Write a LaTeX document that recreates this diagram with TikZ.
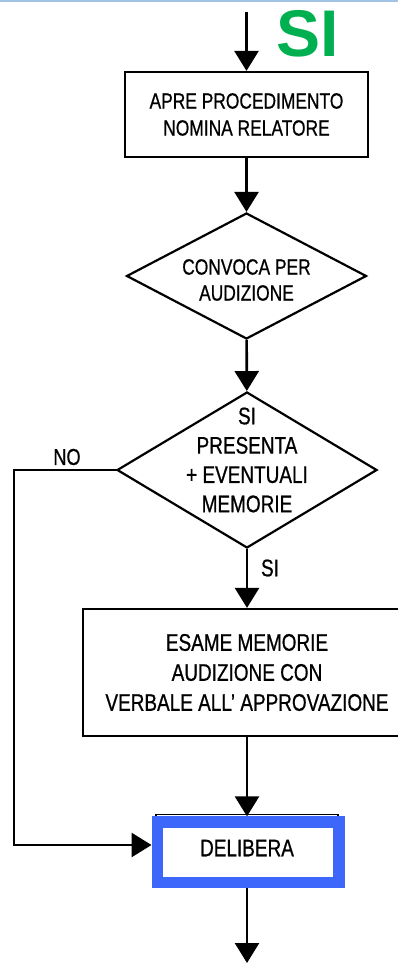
\documentclass[tikz,border=0pt]{standalone}
\usepackage{fontspec}
\setmainfont{Liberation Sans}[FakeStretch=0.79, FakeBold=0.7]
\newfontfamily\sifont{Liberation Sans}
\usetikzlibrary{shapes.geometric,arrows.meta}

\definecolor{sigreen}{RGB}{0,176,80}
\definecolor{hiblue}{RGB}{61,102,250}
\definecolor{topbar}{RGB}{160,195,230}

\tikzset{
	box/.style={draw, line width=2.2pt, rectangle, align=center, inner sep=0pt},
	choice/.style={draw, line width=2.2pt, diamond, aspect=1.9, inner sep=0pt},
	txt/.style={align=center, inner sep=0pt},
	flow/.style={line width=2.6pt, -{Triangle[width=24pt,length=20pt]}},
	hilite/.style={draw=hiblue, line width=11.8pt, rectangle, inner sep=0pt},
}

\begin{document}
\begin{tikzpicture}[x=1pt,y=-1pt]
	
	\useasboundingbox (0,0) rectangle (398,963);
	\fill[topbar] (0,0) rectangle (398,2.5);
	
	% ingresso dall'alto
	\coordinate (start) at (246.5,12);
	\node[txt, text=sigreen, font=\sifont\bfseries\fontsize{66}{66}\selectfont] (si) at (307.5,34) {SI};
	
	\node[box, minimum width=243pt, minimum height=85pt, font=\fontsize{22}{27}\selectfont] (apre) at (246.5,114.5)
		{APRE PROCEDIMENTO\\NOMINA RELATORE};
	
	% primo rombo
	\node[choice, minimum width=240pt, minimum height=126pt] (convoca) at (246.5,276) {};
	\node[txt, font=\fontsize{22}{26}\selectfont] (convocatxt) at (246.5,280) {CONVOCA PER\\AUDIZIONE};
	
	% secondo rombo
	\node[choice, aspect=1.67, minimum width=260pt, minimum height=156pt] (presenta) at (247,470) {};
	\node[txt, font=\fontsize{24}{29.3}\selectfont] (presentatxt) at (247,460) {SI\\PRESENTA\\+ EVENTUALI\\MEMORIE};
	\node[txt, font=\fontsize{23}{23}\selectfont] (no) at (67,457) {NO};
	\node[txt, font=\fontsize{24}{24}\selectfont] (sibis) at (270,568) {SI};
	
	\node[box, minimum width=328pt, minimum height=127pt, font=\fontsize{24}{30}\selectfont] (esame) at (247,672.5)
		{ESAME MEMORIE\\AUDIZIONE CON\\VERBALE ALL’ APPROVAZIONE};
	
	% delibera, con riquadro blu
	\node[box, minimum width=182pt, minimum height=67pt, line width=1.6pt, font=\fontsize{24}{24}\selectfont] (delibera) at (247,848)
		{DELIBERA};
	\node[hilite, minimum width=181.3pt, minimum height=60.3pt] (riquadro) at (248.1,852.4) {};
	\coordinate (fine) at (247,963);
	\coordinate (svolta) at (14,845);
	
	% frecce
	\draw[flow] (start) -- (apre);
	\draw[flow] (apre) -- (convoca);
	\draw[flow] (convoca) -- (presenta);
	\draw[flow] (presenta.south) -- (presenta.south |- esame.north);
	\draw[flow] (esame.south) -- (riquadro.north -| esame.south);
	\draw[flow, line cap=rect] (presenta.west) -| (svolta) -- (riquadro.west |- svolta);
	\draw[flow] (riquadro.south -| fine) -- (fine);
	
\end{tikzpicture}
\end{document}
